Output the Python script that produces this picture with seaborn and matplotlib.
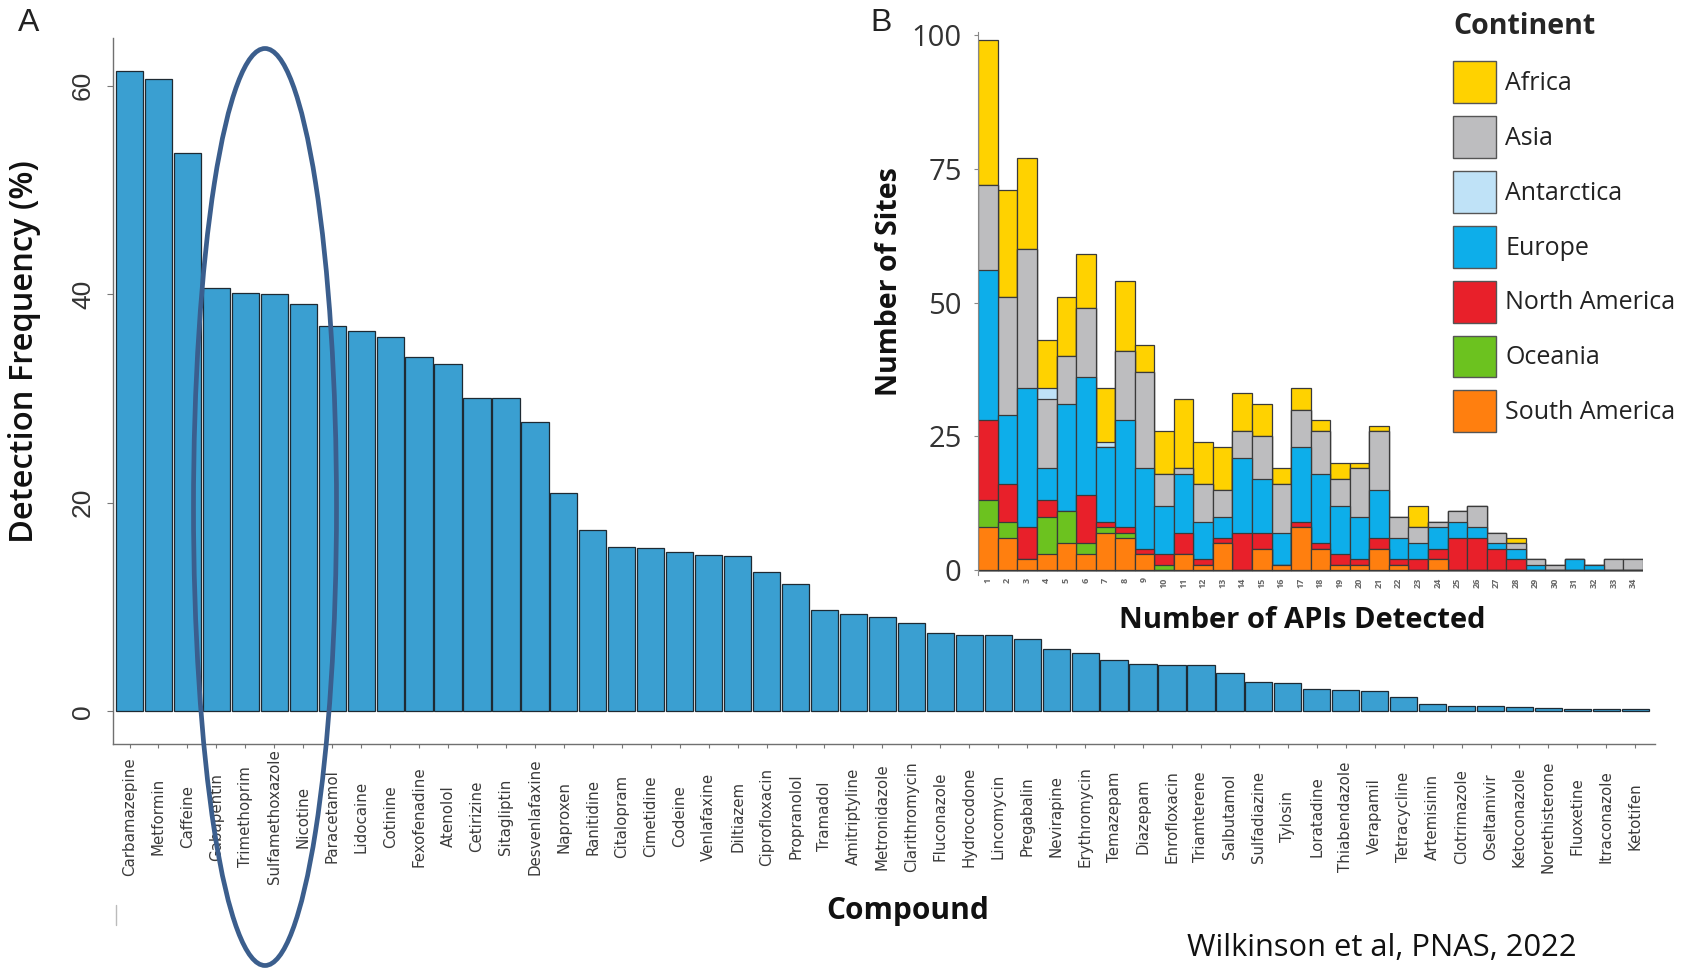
import numpy as np
import pandas as pd
import matplotlib
matplotlib.use("Agg")
import matplotlib.pyplot as plt
from matplotlib.patches import Ellipse, Patch
from matplotlib.lines import Line2D
import seaborn as sns

# ---------------- Panel A data ----------------
compounds = ["Carbamazepine", "Metformin", "Caffeine", "Gabapentin", "Trimethoprim",
             "Sulfamethoxazole", "Nicotine", "Paracetamol", "Lidocaine", "Cotinine",
             "Fexofenadine", "Atenolol", "Cetirizine", "Sitagliptin", "Desvenlafaxine",
             "Naproxen", "Ranitidine", "Citalopram", "Cimetidine", "Codeine",
             "Venlafaxine", "Diltiazem", "Ciprofloxacin", "Propranolol", "Tramadol",
             "Amitriptyline", "Metronidazole", "Clarithromycin", "Fluconazole", "Hydrocodone",
             "Lincomycin", "Pregabalin", "Nevirapine", "Erythromycin", "Temazepam",
             "Diazepam", "Enrofloxacin", "Triamterene", "Salbutamol", "Sulfadiazine",
             "Tylosin", "Loratadine", "Thiabendazole", "Verapamil", "Tetracycline",
             "Artemisinin", "Clotrimazole", "Oseltamivir", "Ketoconazole", "Norethisterone",
             "Fluoxetine", "Itraconazole", "Ketotifen"]
detection_freq = [61.4, 60.6, 53.5, 40.6, 40.1,
                  40.0, 39.1, 36.9, 36.5, 35.9,
                  34.0, 33.3, 30.0, 30.0, 27.7,
                  20.9, 17.4, 15.8, 15.7, 15.3,
                  15.0, 14.9, 13.4, 12.2, 9.7,
                  9.3, 9.0, 8.5, 7.5, 7.3,
                  7.3, 6.9, 6.0, 5.6, 4.9,
                  4.5, 4.4, 4.4, 3.7, 2.8,
                  2.7, 2.1, 2.0, 1.9, 1.4,
                  0.7, 0.5, 0.5, 0.4, 0.3,
                  0.2, 0.2, 0.2]
yticks_A = [0, 20, 40, 60]

# ---------------- Panel B data ----------------
api_counts = [str(i) for i in range(1, 35)]
south_america = [8, 6, 2, 3, 5, 3, 7, 6, 3, 0, 3, 1, 5, 0, 4, 1, 8, 4, 1, 1, 4, 1, 0, 2, 0, 0, 0, 0, 0, 0, 0, 0, 0, 0]
oceania       = [5, 3, 0, 7, 6, 2, 1, 1, 0, 1, 0, 0, 0, 0, 0, 0, 0, 0, 0, 0, 0, 0, 0, 0, 0, 0, 0, 0, 0, 0, 0, 0, 0, 0]
north_america = [15, 7, 6, 3, 0, 9, 1, 1, 1, 2, 4, 1, 1, 7, 3, 0, 1, 1, 2, 1, 2, 1, 2, 2, 6, 6, 4, 2, 0, 0, 0, 0, 0, 0]
europe        = [28, 13, 26, 6, 20, 22, 14, 20, 15, 9, 11, 7, 4, 14, 10, 6, 14, 13, 9, 8, 9, 4, 3, 4, 3, 2, 1, 2, 1, 0, 2, 1, 0, 0]
asia          = [16, 22, 26, 13, 9, 13, 0, 13, 18, 6, 1, 7, 5, 5, 8, 9, 7, 8, 5, 9, 11, 4, 3, 1, 2, 4, 2, 1, 1, 1, 0, 0, 2, 2]
antarctica    = [0, 0, 0, 2, 0, 0, 1, 0, 0, 0, 0, 0, 0, 0, 0, 0, 0, 0, 0, 0, 0, 0, 0, 0, 0, 0, 0, 0, 0, 0, 0, 0, 0, 0]
africa        = [27, 20, 17, 9, 11, 10, 10, 13, 5, 8, 13, 8, 8, 7, 6, 3, 4, 2, 3, 1, 1, 0, 4, 0, 0, 0, 0, 1, 0, 0, 0, 0, 0, 0]
yticks_B = [0, 25, 50, 75, 100]

legend_order = ["Africa", "Asia", "Antarctica", "Europe", "North America", "Oceania", "South America"]
continent_colors = {
    "Africa": "#FFD200",
    "Asia": "#BDBDBF",
    "Antarctica": "#BFE2F7",
    "Europe": "#0DAEEA",
    "North America": "#E8202A",
    "Oceania": "#6CC21F",
    "South America": "#FF7F0F",
}
# bottom -> top stacking order
stack_layers = [("South America", south_america), ("Oceania", oceania),
                ("North America", north_america), ("Europe", europe),
                ("Asia", asia), ("Antarctica", antarctica), ("Africa", africa)]

# ---------------- Style ----------------
sns.set_theme(style="white")
plt.rcParams['font.family'] = ['Open Sans', 'DejaVu Sans']

W, H = 1685, 969
fig = plt.figure(figsize=(W / 100, H / 100), dpi=100)
fig.patch.set_facecolor("white")


def fx(px):
    return px / W


def fy(py):
    return 1 - py / H


# ---------------- Panel A ----------------
A_left, A_right, A_top, A_bottom = 113, 1655, 37.6, 743.6
axA = fig.add_axes([fx(A_left), fy(A_bottom), (A_right - A_left) / W, (A_bottom - A_top) / H])
dfA = pd.DataFrame({"Compound": compounds, "Detection": detection_freq})
sns.barplot(data=dfA, x="Compound", y="Detection", order=compounds, color="#3A9FD1",
            saturation=1, edgecolor="#1E2A33", linewidth=0.9, width=0.94,
            errorbar=None, ax=axA)
axA.set_xlim(-0.57, 52.68)
axA.set_ylim(-3.1, 64.6)
axA.set_yticks(yticks_A)
axA.set_yticklabels([str(v) for v in yticks_A], rotation=90, va="center",
                    fontsize=19, color="#333333", family="Liberation Sans")
axA.tick_params(axis="y", length=4, width=0.8, color="#777777", direction="out", pad=9, left=True)
axA.tick_params(axis="x", length=3, width=0.8, color="#777777", direction="out", pad=49.5, bottom=True)
for lab in axA.get_xticklabels():
    lab.set_rotation(90)
    lab.set_fontsize(10.8)
    lab.set_color("#3A3A3A")
    lab.set_family("DejaVu Sans")
    lab.set_va("center")
    lab.set_ha("center")
for s in ["top", "right"]:
    axA.spines[s].set_visible(False)
for s in ["left", "bottom"]:
    axA.spines[s].set_color("#707070")
    axA.spines[s].set_linewidth(1.0)

axA.set_xlabel("Compound", fontsize=21.5, fontweight="bold", color="#111111")
axA.xaxis.label.set(va="center", ha="center")
axA.xaxis.set_label_coords((908 - A_left) / (A_right - A_left), (A_bottom - 911) / (A_bottom - A_top))
axA.set_ylabel("Detection Frequency (%)", fontsize=23.5, fontweight="semibold", color="#111111")
axA.yaxis.label.set(va="center", ha="center", rotation_mode="default")
axA.yaxis.set_label_coords((25 - A_left) / (A_right - A_left), (A_bottom - 352) / (A_bottom - A_top))

# ---------------- Panel B (inset) ----------------
B_left, B_right, B_top, B_bottom = 978.3, 1643, 32.3, 575.4
axB = fig.add_axes([fx(B_left), fy(B_bottom), (B_right - B_left) / W, (B_bottom - B_top) / H])
axB.patch.set_alpha(0)

cum = np.zeros(len(api_counts))
cums = []
for name, vals in stack_layers:
    cum = cum + np.array(vals, dtype=float)
    cums.append((name, cum.copy()))
for name, c in reversed(cums):
    sns.barplot(x=api_counts, y=c, order=api_counts, color=continent_colors[name],
                saturation=1, width=1.0, edgecolor="#3A3A3A", linewidth=0.9,
                errorbar=None, ax=axB)

axB.set_xlim(-0.5, 33.5)
axB.set_ylim(-1, 100.5)
axB.set_yticks(yticks_B)
axB.set_yticklabels([str(v) for v in yticks_B], fontsize=21, color="#333333")
axB.tick_params(axis="y", length=3, width=0.8, color="#888888", pad=9, left=True)
axB.tick_params(axis="x", length=0, pad=1.5)
for lab in axB.get_xticklabels():
    lab.set_rotation(90)
    lab.set_fontsize(6.5)
    lab.set_color("#666666")
    lab.set_fontweight("bold")
for s in ["top", "right", "bottom"]:
    axB.spines[s].set_visible(False)
axB.spines["left"].set_color("#888888")
axB.spines["left"].set_linewidth(0.8)

axB.set_xlabel("Number of APIs Detected", fontsize=21, fontweight="bold", color="#111111")
axB.xaxis.label.set(va="center", ha="center")
axB.xaxis.set_label_coords((1302 - B_left) / (B_right - B_left), (B_bottom - 621) / (B_bottom - B_top))
axB.set_ylabel("Number of Sites", fontsize=20.5, fontweight="bold", color="#111111")
axB.yaxis.label.set(va="center", ha="center", rotation_mode="default")
axB.yaxis.set_label_coords((889 - B_left) / (B_right - B_left), (B_bottom - 282) / (B_bottom - B_top))

# ---------------- Legend ----------------
handles = [Patch(facecolor=continent_colors[k], edgecolor="#555555", linewidth=1.0, label=k)
           for k in legend_order]
leg = fig.legend(handles=handles, loc="upper left", bbox_to_anchor=(fx(1453), fy(12)),
                 frameon=False, fontsize=18, title="Continent",
                 title_fontproperties={"weight": "bold", "size": 20.5},
                 alignment="left", handlelength=1.72, handleheight=2.2,
                 labelspacing=0.52, handletextpad=0.36, borderpad=0, borderaxespad=0)
leg._legend_box.sep = 14.5
for t in leg.get_texts():
    t.set_color("#222222")

# ---------------- Annotations ----------------
fig.text(fx(29), fy(23), "A", ha="center", va="center", fontsize=23,
         family="Liberation Sans", color="#222222")
fig.text(fx(881), fy(23), "B", ha="center", va="center", fontsize=23,
         family="Liberation Sans", color="#222222")
fig.text(fx(1187), fy(948), "Wilkinson et al, PNAS, 2022", ha="left", va="center",
         fontsize=22.2, color="#111111")

ell = Ellipse((fx(265), fy(507)), width=143 / W, height=917 / H, transform=fig.transFigure,
              fill=False, edgecolor="#3B5E8D", linewidth=3.4, zorder=10)
fig.add_artist(ell)

fig.add_artist(Line2D([fx(116), fx(116)], [fy(905), fy(925)], transform=fig.transFigure,
                      color="#BBBBBB", linewidth=1.0))

fig.savefig("out.png", dpi=100, facecolor="white")
